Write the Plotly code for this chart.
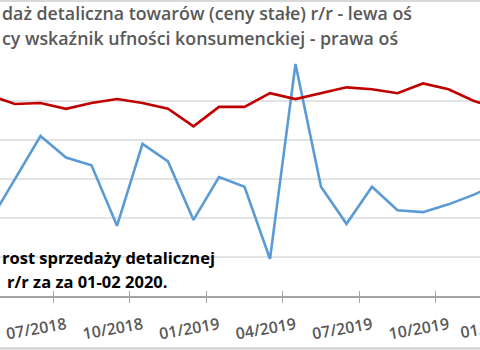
import plotly.graph_objects as go

# Monthly series, April 2018 - December 2019
months = ["04/2018", "05/2018", "06/2018", "07/2018", "08/2018", "09/2018",
          "10/2018", "11/2018", "12/2018", "01/2019", "02/2019", "03/2019",
          "04/2019", "05/2019", "06/2019", "07/2019", "08/2019", "09/2019",
          "10/2019", "11/2019", "12/2019"]
# Retail sales of goods (constant prices), % y/y - left axis
retail_yoy = [3.8, 6.0, 8.2, 7.1, 6.7, 3.6, 7.8, 6.9, 3.9, 6.1, 5.6, 1.9,
              11.9, 5.6, 3.7, 5.6, 4.4, 4.3, 4.7, 5.2, 5.8]
# Current consumer confidence indicator - right axis
confidence = [4.3, 3.85, 3.9, 3.6, 3.9, 4.1, 3.9, 3.6, 2.7, 3.7, 3.7, 4.4,
              4.1, 4.4, 4.7, 4.6, 4.4, 4.9, 4.6, 4.0, 3.6]
# Quarterly axis labels
tick_labels = ["07/2018", "10/2018", "01/2019", "04/2019", "07/2019",
               "10/2019", "01/2020"]

legend_lines = ["daż detaliczna towarów (ceny stałe) r/r - lewa oś",
                "cy wskaźnik ufności konsumenckiej - prawa oś"]
note_lines = ["rost sprzedaży detalicznej", "r/r za za 01-02 2020."]


def month_pos(label):
    mm, yyyy = label.split("/")
    return (int(yyyy) - 2018) * 12 + int(mm) - 4


xs = [month_pos(m) for m in months]
tick_pos = [month_pos(t) for t in tick_labels]
boundaries = [p - 0.5 for p in tick_pos]

X_RANGE = [0.412, 19.235]
W, H = 480, 350
M_TOP, M_BOT = 62, 54
PLOT_H = H - M_TOP - M_BOT

GREY_TXT = "#595959"
FONT = "Open Sans"


def paper_y(px):
    return (H - M_BOT - px) / PLOT_H


def paper_x(pos):
    return (pos - X_RANGE[0]) / (X_RANGE[1] - X_RANGE[0])


fig = go.Figure()
fig.add_trace(go.Scatter(x=xs, y=retail_yoy, mode="lines",
                         line=dict(color="#5B9BD5", width=2.6),
                         yaxis="y", showlegend=False))
fig.add_trace(go.Scatter(x=xs, y=confidence, mode="lines",
                         line=dict(color="#C00000", width=2.6),
                         yaxis="y2", showlegend=False))
# empty trace carrying the upper half of the crossing tick marks
fig.add_trace(go.Scatter(x=[], y=[], xaxis="x2", yaxis="y",
                         showlegend=False))

in_range = [(p, t) for p, t in zip(tick_pos, tick_labels)
            if X_RANGE[0] <= p <= X_RANGE[1]]

tick_font = dict(family=FONT, size=16, color=GREY_TXT, weight=600)

fig.update_layout(
    width=W, height=H,
    margin=dict(l=0, r=0, t=M_TOP, b=M_BOT),
    paper_bgcolor="white", plot_bgcolor="white",
    xaxis=dict(range=X_RANGE, showgrid=False, zeroline=False,
               showline=True, linecolor="#a6a6a6", linewidth=1.6,
               tickmode="array", tickvals=[p for p, _ in in_range],
               ticktext=[t for _, t in in_range], ticks="",
               tickangle=-10, ticklabelstandoff=12,
               tickfont=tick_font,
               minor=dict(tickmode="array", tickvals=boundaries,
                          ticks="outside", ticklen=5, tickwidth=1.4,
                          tickcolor="#a6a6a6", showgrid=False)),
    xaxis2=dict(range=X_RANGE, overlaying="x", anchor="y", side="bottom",
                showgrid=False, zeroline=False, showline=False,
                tickmode="array", tickvals=boundaries, ticks="inside",
                ticklen=5, tickwidth=1.4, tickcolor="#a6a6a6",
                showticklabels=False),
    yaxis=dict(range=[0, 12], dtick=2, tick0=0, showgrid=True,
               gridcolor="#e3e3e3", gridwidth=1.6, zeroline=False,
               showticklabels=False, showline=False),
    yaxis2=dict(range=[-6, 6], overlaying="y", side="right",
                showgrid=False, zeroline=False, showticklabels=False,
                showline=False),
    shapes=[
        dict(type="rect", xref="paper", yref="paper", x0=-0.01, x1=1.01,
             y0=paper_y(2), y1=paper_y(-1), fillcolor="#d9d9d9",
             line=dict(width=0), layer="above"),
        dict(type="rect", xref="paper", yref="paper", x0=-0.01, x1=1.01,
             y0=paper_y(351), y1=paper_y(347), fillcolor="#d9d9d9",
             line=dict(width=0), layer="above"),
    ],
)

annotations = []
for txt, cy in zip(legend_lines, [13, 38]):
    annotations.append(dict(text=txt, xref="paper", yref="paper", x=0,
                            y=paper_y(cy), xanchor="left", yanchor="middle",
                            showarrow=False,
                            font=dict(family=FONT, size=17.8, color=GREY_TXT,
                                      weight=600)))
for txt, x0, cy in zip(note_lines, [0, 5], [257, 281]):
    annotations.append(dict(text=txt, xref="paper", yref="paper",
                            x=x0 / W, y=paper_y(cy), xanchor="left",
                            yanchor="middle", showarrow=False,
                            font=dict(family=FONT, size=16.5, color="black",
                                      weight="bold")))
# label of the next quarter, running past the right edge
for p, t in zip(tick_pos, tick_labels):
    if p > X_RANGE[1]:
        annotations.append(dict(text=t, xref="paper", yref="paper",
                                x=paper_x(p), y=paper_y(309),
                                xanchor="right", yanchor="top",
                                textangle=-10, showarrow=False,
                                font=tick_font))
fig.update_layout(annotations=annotations)

fig.write_html("out.html")
